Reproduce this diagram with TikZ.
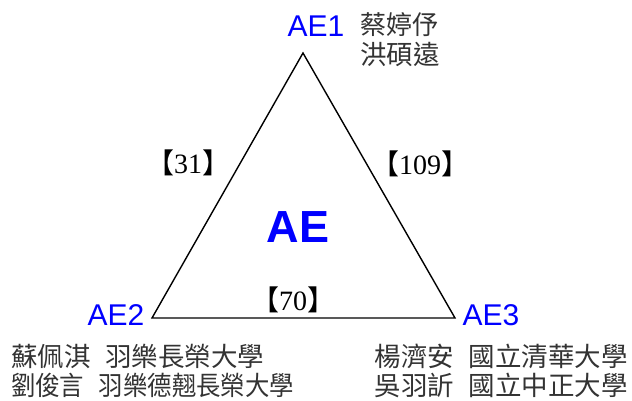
\documentclass[tikz,border=0pt]{standalone}
\usepackage{fontspec}
\setmainfont{Liberation Sans}
\newfontfamily\cjk{Noto Sans CJK TC}
\newfontfamily\cjknarrow[FakeStretch=0.92]{Noto Sans CJK TC}
\newfontfamily\numfont{Liberation Serif}
\usetikzlibrary{positioning}
\tikzset{
  vlabel/.style={text=blue,font=\fontsize{30}{32}\selectfont,inner sep=0pt},
  names/.style={text=black!80,font=\cjk\fontsize{26.5}{29.5}\selectfont,align=left,inner sep=0pt},
  count/.style={font=\fontsize{28}{30}\selectfont,inner sep=0pt},
}
\newcommand{\cnt}[1]{{\cjk 【}{\numfont #1}{\cjk 】}}
\newcommand{\gap}{\hspace{0.55em}}

\begin{document}
\begin{tikzpicture}[x=1pt,y=-1pt]
  \useasboundingbox (0,0) rectangle (632,400);
  % corners of the triangle
  \coordinate (c1) at (303,53);
  \coordinate (c2) at (152,318);
  \coordinate (c3) at (455,318);
  \draw[line width=1.4pt] (c1) -- (c2) -- (c3) -- cycle;
  % vertex labels
  \node[vlabel] (ae1) at (316,26) {AE1};
  \node[vlabel] (ae2) at (116,315) {AE2};
  \node[vlabel] (ae3) at (491,315) {AE3};
  \node[text=blue,font=\bfseries\fontsize{45}{48}\selectfont,inner sep=0pt] (ae) at (298,227) {AE};
  % members
  \node[names,anchor=west] (n1) at (360,39.5) {\fontsize{26}{29}\selectfont 蔡婷伃\\洪碩遠};
  \node[names,anchor=west] (n2) at (11,371) {蘇佩淇\gap 羽樂長榮大學\\{\cjknarrow 劉俊言\gap 羽樂德翹長榮大學}};
  \node[names,anchor=east] (n3) at (628,371) {楊濟安\gap 國立清華大學\\吳羽訢\gap 國立中正大學};
  % edge counts
  \node[count] (e12) at (188,163) {\cnt{31}};
  \node[count] (e13) at (420,164) {\cnt{109}};
  \node[count] (e23) at (293,300) {\cnt{70}};
\end{tikzpicture}
\end{document}
